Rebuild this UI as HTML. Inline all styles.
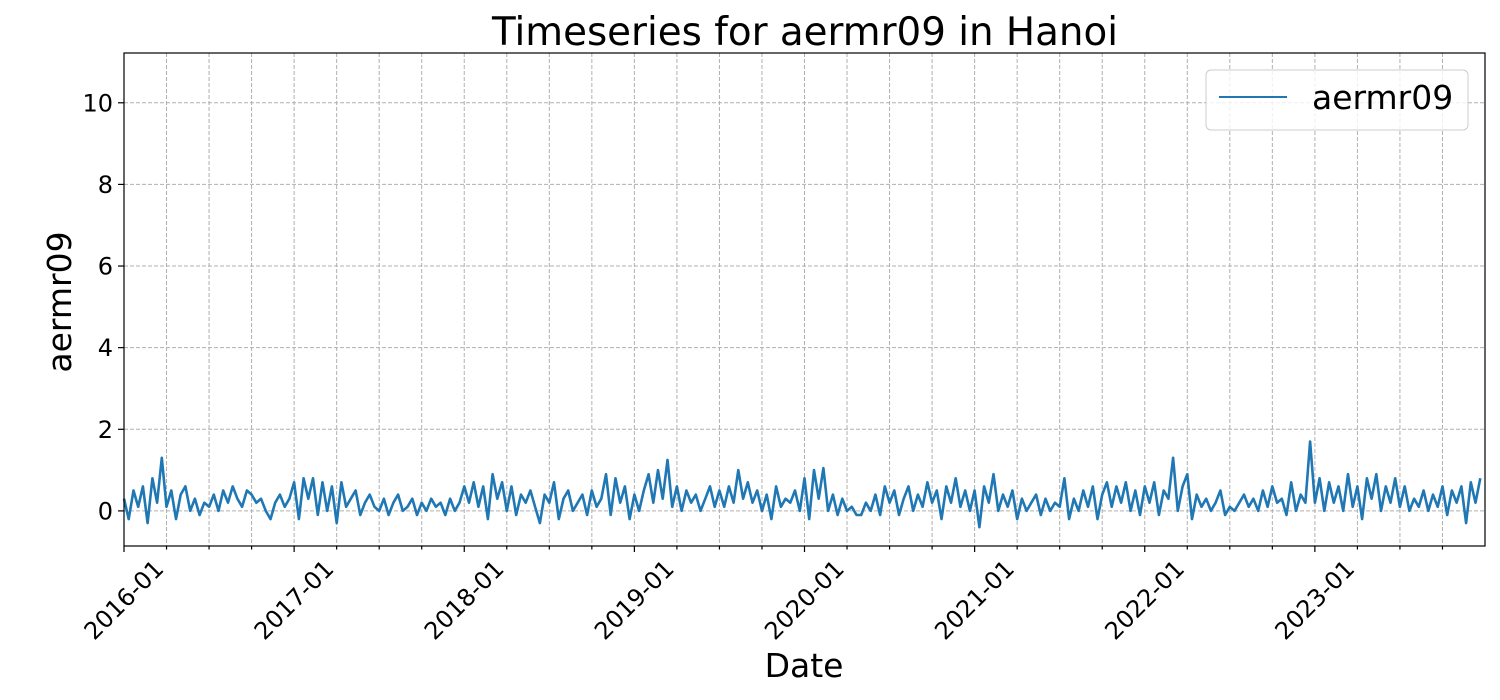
<!DOCTYPE html>
<html><head><meta charset="utf-8"><style>
html,body{margin:0;padding:0;background:#fff;}
svg{display:block;font-family:"DejaVu Sans","Liberation Sans",sans-serif;}
</style></head><body>
<svg id="chart" width="1500" height="700" viewBox="0 0 1500 700" xmlns="http://www.w3.org/2000/svg">
<rect width="1500" height="700" fill="#fff"/>
<g id="grid"></g>
<g id="series"></g>
<rect x="124" y="53" width="1361" height="493" fill="none" stroke="#000" stroke-width="1.2"/>
<g id="ticks"></g>
<text x="805" y="45" font-size="38.8" text-anchor="middle">Timeseries for aermr09 in Hanoi</text>
<text transform="translate(71,302) rotate(-90)" font-size="33" text-anchor="middle">aermr09</text>
<text x="804" y="677" font-size="33" text-anchor="middle">Date</text>
<g>
<rect x="1206" y="70" width="262" height="60" rx="5" fill="#fff" fill-opacity="0.8" stroke="#ccc"/>
<line x1="1219" y1="97" x2="1287" y2="97" stroke="#1f77b4" stroke-width="2"/>
<text x="1312" y="109" font-size="33">aermr09</text>
</g>
</svg>
<script>
const yTicks=[0,2,4,6,8,10];
const xYears=[2016,2017,2018,2019,2020,2021,2022,2023];
const startYear=2016;
const values=[
0.3,-0.2,0.5,0.1,0.6,-0.3,0.8,0.2,1.3,0.1,0.5,-0.2,0.4,0.6,0.0,0.3,-0.1,0.2,0.1,0.4,0.0,0.5,0.2,0.6,0.3,0.1,0.5,0.4,0.2,0.3,0.0,-0.2,0.2,0.4,0.1,0.3,
0.7,-0.2,0.8,0.3,0.8,-0.1,0.7,0.0,0.6,-0.3,0.7,0.1,0.3,0.5,-0.1,0.2,0.4,0.1,0.0,0.3,-0.1,0.2,0.4,0.0,0.1,0.3,-0.1,0.2,0.0,0.3,0.1,0.2,-0.1,0.3,0.0,0.2,
0.6,0.2,0.7,0.1,0.6,-0.2,0.9,0.3,0.7,0.0,0.6,-0.1,0.4,0.2,0.5,0.1,-0.3,0.4,0.2,0.7,-0.2,0.3,0.5,0.0,0.2,0.4,-0.1,0.5,0.1,0.3,0.9,-0.1,0.8,0.2,0.6,-0.2,
0.4,0.0,0.5,0.9,0.2,1.0,0.3,1.25,0.1,0.6,0.0,0.5,0.2,0.4,0.0,0.3,0.6,0.1,0.5,0.1,0.6,0.2,1.0,0.3,0.7,0.2,0.5,0.0,0.4,-0.2,0.6,0.1,0.3,0.2,0.5,0.0,
0.8,-0.2,1.0,0.3,1.05,0.0,0.4,-0.1,0.3,0.0,0.1,-0.1,-0.1,0.2,0.0,0.4,-0.1,0.6,0.2,0.5,-0.1,0.3,0.6,0.0,0.4,0.1,0.7,0.2,0.5,-0.2,0.6,0.2,0.8,0.1,0.5,0.0,
0.5,-0.4,0.6,0.2,0.9,0.0,0.4,0.1,0.5,-0.2,0.3,0.0,0.2,0.4,-0.1,0.3,0.0,0.2,0.1,0.8,-0.2,0.3,0.0,0.5,0.1,0.6,-0.2,0.4,0.7,0.1,0.6,0.2,0.7,0.0,0.5,-0.1,
0.6,0.2,0.7,-0.1,0.5,0.3,1.3,0.0,0.6,0.9,-0.2,0.4,0.1,0.3,0.0,0.2,0.5,-0.1,0.1,0.0,0.2,0.4,0.1,0.3,0.0,0.5,0.1,0.6,0.2,0.3,-0.1,0.7,0.0,0.4,0.2,1.7,
0.2,0.8,0.0,0.7,0.2,0.6,0.0,0.9,0.1,0.6,-0.2,0.8,0.3,0.9,0.0,0.6,0.2,0.8,0.1,0.6,0.0,0.3,0.1,0.5,0.0,0.4,0.1,0.6,-0.1,0.5,0.2,0.6,-0.3,0.7,0.2,0.8
];
const NS="http://www.w3.org/2000/svg";
const L=124,R=1485,T=53,B=546;
const xMin=2016,xMax=2024;
const yMin=-0.86,yMax=11.22;
const xs=v=>L+(v-xMin)/(xMax-xMin)*(R-L);
const ys=v=>B-(v-yMin)/(yMax-yMin)*(B-T);
function mk(tag,attrs,parent){const e=document.createElementNS(NS,tag);for(const k in attrs)e.setAttribute(k,attrs[k]);parent.appendChild(e);return e;}
const grid=document.getElementById('grid'),ticks=document.getElementById('ticks'),series=document.getElementById('series');
yTicks.forEach(v=>{
  const y=ys(v);
  const g=mk('line',{x1:L,x2:R,y1:y,y2:y,stroke:'#b0b0b0','stroke-dasharray':'4,2','stroke-width':1},grid);
  
  
  const t=mk('line',{x1:L-6,x2:L,y1:y,y2:y,stroke:'#000','stroke-width':1.2},ticks);
  
  
  const lb=mk('text',{x:L-11,y:y+8.5,'font-size':24,'text-anchor':'end'},ticks);
  lb.textContent=String(v);
  
  
});
for(let q=0;q<32;q++){
  const x=xs(xMin+q/4);
  const major=q%4===0;
  const g=mk('line',{x1:x,x2:x,y1:T,y2:B,stroke:'#b0b0b0','stroke-dasharray':'4,2','stroke-width':1},grid);
  
  
  const t=mk('line',{x1:x,x2:x,y1:B,y2:B+(major?6:3.5),stroke:'#000','stroke-width':1.2},ticks);
  
  
}
xYears.forEach(yr=>{
  const x=xs(yr);
  const lb=mk('text',{transform:`translate(${x},${600}) rotate(-45)`,'font-size':24,'text-anchor':'middle','dominant-baseline':'central'},ticks);
  lb.textContent=yr+'-01';
  
  
});
const pts=values.map((v,i)=>xs(startYear+i/36).toFixed(1)+','+ys(v).toFixed(1)).join(' ');
const pl=mk('polyline',{points:pts,fill:'none',stroke:'#1f77b4','stroke-width':2.6,'stroke-linejoin':'round'},series);


</script>
</body></html>
